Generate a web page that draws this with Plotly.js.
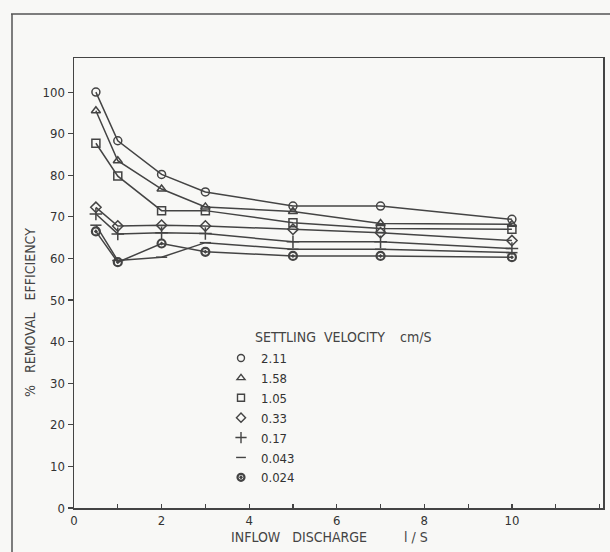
<!DOCTYPE html>
<html>
<head>
<meta charset="utf-8">
<script src="https://cdn.plot.ly/plotly-3.0.1.min.js"></script>
<style>html,body{margin:0;padding:0;background:#f8f8f6;}#chart{width:610px;height:552px;}</style>
</head>
<body>
<div id="chart"></div>
<script>
// ---- data ----
const discharge = [0.5, 1, 2, 3, 5, 7, 10];          // inflow discharge l/s
const velocityLabels = ["2.11", "1.58", "1.05", "0.33", "0.17", "0.043", "0.024"];
const eff_211  = [100, 88.3, 80.2, 76.0, 72.6, 72.6, 69.4];
const eff_158  = [95.5, 83.5, 76.7, 72.4, 71.3, 68.4, 68.2];
const eff_105  = [87.7, 79.8, 71.5, 71.5, 68.6, 67.2, 67.0];
const eff_033  = [72.3, 67.8, 68.0, 67.8, 67.0, 66.2, 64.3];
const eff_017  = [70.7, 65.9, 66.2, 66.0, 64.0, 64.0, 62.4];
const eff_0043 = [68.0, 59.5, 60.3, 63.8, 62.2, 62.2, 61.4];
const eff_0024 = [66.5, 59.1, 63.6, 61.6, 60.6, 60.6, 60.3];
const xTickVals = [0, 2, 4, 6, 8, 10];
const yTickVals = [0, 10, 20, 30, 40, 50, 60, 70, 80, 90, 100];

const series = [eff_211, eff_158, eff_105, eff_033, eff_017, eff_0043, eff_0024];
const symbols = ["circle-open", "triangle-up-open", "square-open", "diamond-open",
                 "cross-thin-open", "line-ew-open", "circle-open-dot"];
const ink = "#444";
const font = "DejaVu Sans Condensed, Liberation Sans Narrow, Arial Narrow, sans-serif";

const traces = [];
series.forEach((ys, i) => {
  traces.push({
    x: discharge, y: ys, type: "scatter", mode: "lines+markers",
    showlegend: false, hoverinfo: "skip",
    line: {color: ink, width: 1.5},
    marker: {symbol: symbols[i], size: i === 4 ? 9 : 8, color: ink,
             line: {color: ink, width: i === 6 ? 2.2 : 1.5}}
  });
});
series.forEach((ys, i) => {
  traces.push({
    x: [null], y: [null], type: "scatter", mode: "markers",
    name: velocityLabels[i], showlegend: true, hoverinfo: "skip",
    marker: {symbol: symbols[i], size: i === 4 ? 8 : 7, color: ink,
             line: {color: ink, width: i === 6 ? 2.2 : 1.4}}
  });
});

// plot area in px: left 74, right 603, top 58, bottom 508
const L = 74, R = 603, T = 58, B = 508;
const px = v => (v - L) / (R - L);
const py = v => (B - v) / (B - T);
const titleFont = {family: font, size: 14, color: "#444"};

const layout = {
  width: 610, height: 552,
  margin: {l: L, r: 610 - R, t: T, b: 552 - B},
  paper_bgcolor: "#f8f8f6", plot_bgcolor: "#f8f8f6",
  font: {family: font, color: "#333", size: 13},
  showlegend: true,
  legend: {x: px(221), y: py(343), xanchor: "left", yanchor: "top",
           bgcolor: "rgba(0,0,0,0)", borderwidth: 0,
           font: {family: font, size: 13, color: "#333"}},
  xaxis: {
    range: [0, 12.08], tickvals: xTickVals, ticktext: xTickVals.map(String),
    ticks: "inside", ticklen: 4, tickwidth: 1.2, tickcolor: ink,
    minor: {dtick: 1, ticks: "inside", ticklen: 4, tickwidth: 1.2, tickcolor: ink},
    showgrid: false, zeroline: false,
    showline: true, mirror: true, linecolor: ink, linewidth: 1.5,
    tickfont: {family: font, size: 13, color: "#333"}
  },
  yaxis: {
    range: [0, 108.2], tickvals: yTickVals, ticktext: yTickVals.map(String),
    ticks: "outside", ticklen: 5, tickwidth: 1.2, tickcolor: ink,
    showgrid: false, zeroline: false,
    showline: true, mirror: true, linecolor: ink, linewidth: 1.5,
    tickfont: {family: font, size: 13, color: "#333"}
  },
  annotations: [
    {xref: "paper", yref: "paper", x: px(30), y: py(313), xanchor: "center", yanchor: "middle",
     text: "%   REMOVAL   EFFICIENCY", textangle: -90, showarrow: false, font: titleFont},
    {xref: "paper", yref: "paper", x: px(229), y: py(537), xanchor: "left", yanchor: "middle",
     text: "INFLOW   DISCHARGE", showarrow: false, font: titleFont},
    {xref: "paper", yref: "paper", x: px(402), y: py(537), xanchor: "left", yanchor: "middle",
     text: "l / S", showarrow: false, font: titleFont},
    {xref: "paper", yref: "paper", x: px(253), y: py(337), xanchor: "left", yanchor: "middle",
     text: "SETTLING  VELOCITY", showarrow: false, font: titleFont},
    {xref: "paper", yref: "paper", x: px(398), y: py(337), xanchor: "left", yanchor: "middle",
     text: "cm/S", showarrow: false, font: titleFont}
  ],
  shapes: [
    {type: "line", xref: "paper", yref: "paper", x0: px(11), x1: px(612), y0: py(14), y1: py(14),
     line: {color: "#555", width: 1.5}},
    {type: "line", xref: "paper", yref: "paper", x0: px(12), x1: px(12), y0: py(14), y1: py(555),
     line: {color: "#555", width: 1.5}}
  ]
};

Plotly.newPlot("chart", traces, layout, {staticPlot: true, displayModeBar: false});
</script>
</body>
</html>
